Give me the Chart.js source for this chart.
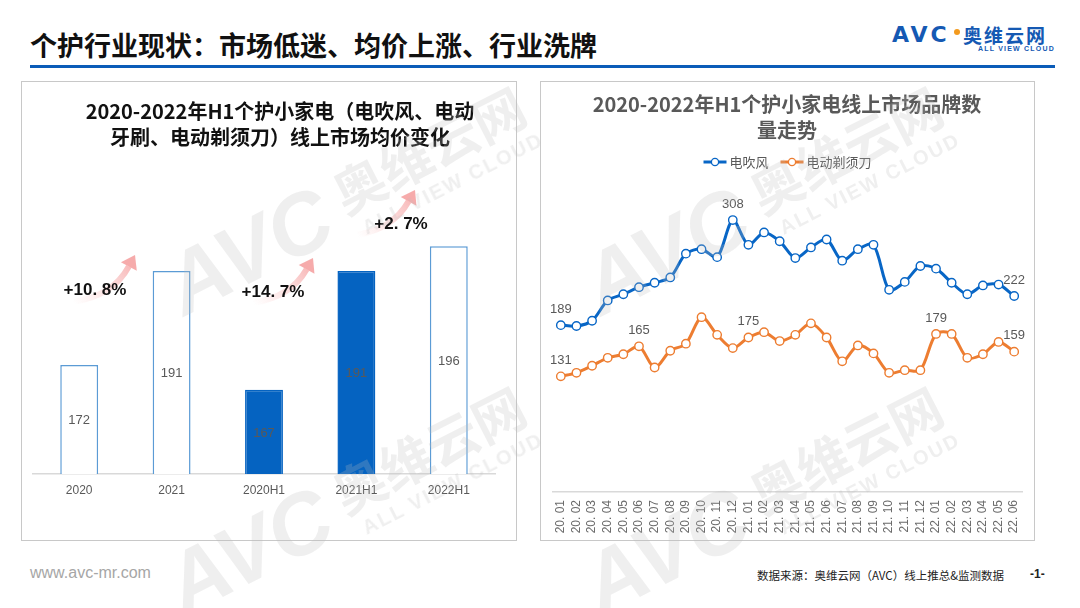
<!DOCTYPE html>
<html><head><meta charset="utf-8">
<script src="https://cdn.jsdelivr.net/npm/chart.js@4.4.1/dist/chart.umd.min.js"></script>
<style>
html,body{margin:0;padding:0;background:#fff;}
body{width:1080px;height:608px;position:relative;overflow:hidden;font-family:"Noto Sans CJK SC","Liberation Sans",sans-serif;}
.abs{position:absolute;white-space:nowrap;}
#hdr{left:30px;top:27px;font-size:27px;font-weight:bold;color:#111;line-height:36px;}
#hline{left:30px;top:65px;width:1025px;height:3px;background:#0b5cb8;}
#logoA{left:892px;top:23px;font-family:"DejaVu Sans";font-size:22px;font-weight:bold;color:#1559b3;letter-spacing:3px;line-height:24px;}
#logoDot{left:954px;top:29px;width:6px;height:6px;border-radius:50%;background:#f39a1e;}
#logoCn{left:963px;top:23px;font-size:19px;font-weight:bold;color:#1559b3;letter-spacing:2px;line-height:24px;}
#logoEn{left:978px;top:45px;font-family:"Liberation Sans";font-size:7px;font-weight:bold;color:#1559b3;letter-spacing:1.2px;line-height:8px;}
.panel{position:absolute;outline:1px solid #c8c8c8;}
#pL{left:22px;top:82px;width:494px;height:458px;}
#pR{left:541px;top:82px;width:493px;height:458px;}
.ttl{position:absolute;font-size:20px;font-weight:bold;line-height:26px;text-align:center;white-space:nowrap;}
#tL{left:80px;top:98px;width:400px;color:#111;}
#tR{left:587px;top:91px;width:400px;color:#595959;}
.ann{position:absolute;font-family:"Liberation Sans";font-size:17px;font-weight:bold;color:#111;transform:translate(-50%,-50%);white-space:nowrap;}
#fw{left:30px;top:564px;font-family:"Liberation Sans";font-size:16px;color:#a6a6a6;}
#fs{left:757px;top:567px;font-size:11.5px;color:#222;}
#fp{left:1030px;top:567px;font-family:"Liberation Sans";font-size:12px;font-weight:bold;color:#222;}
.wm{position:absolute;pointer-events:none;transform-origin:0 0;transform:rotate(-27deg);color:rgba(190,190,190,0.24);white-space:nowrap;}
.wm .a{position:absolute;left:0;top:0;font-family:"Liberation Sans";font-size:86px;font-weight:bold;font-style:italic;line-height:90px;}
.wm .c{position:absolute;left:190px;top:6px;font-size:52px;font-weight:bold;line-height:60px;}
.wm .e{position:absolute;left:200px;top:66px;font-family:"Liberation Sans";font-size:20px;font-weight:bold;letter-spacing:2px;line-height:24px;}
</style></head>
<body>
<div class="abs" id="hdr">个护行业现状：市场低迷、均价上涨、行业洗牌</div>
<div class="abs" id="hline"></div>
<div class="abs" id="logoA">AVC</div>
<div class="abs" id="logoDot"></div>
<div class="abs" id="logoCn">奥维云网</div>
<div class="abs" id="logoEn">ALL VIEW CLOUD</div>

<div class="panel" id="pL"><canvas id="cL"></canvas></div>
<div class="panel" id="pR"><canvas id="cR"></canvas></div>

<div class="ttl" id="tL">2020-2022年H1个护小家电（电吹风、电动<br>牙刷、电动剃须刀）线上市场均价变化</div>
<div class="ttl" id="tR">2020-2022年H1个护小家电线上市场品牌数<br>量走势</div>

<div class="ann" style="left:95px;top:290px;">+10. 8%</div>
<div class="ann" style="left:273px;top:292px;">+14. 7%</div>
<div class="ann" style="left:401px;top:224px;">+2. 7%</div>

<div class="abs" id="fw">www.avc-mr.com</div>
<div class="abs" id="fs">数据来源：奥维云网（AVC）线上推总&amp;监测数据</div>
<div class="abs" id="fp">-1-</div>

<div class="wm" style="left:150px;top:250px;"><div class="a">AVC</div><div class="c">奥维云网</div><div class="e">ALL VIEW CLOUD</div></div>
<div class="wm" style="left:150px;top:550px;"><div class="a">AVC</div><div class="c">奥维云网</div><div class="e">ALL VIEW CLOUD</div></div>
<div class="wm" style="left:567px;top:250px;"><div class="a">AVC</div><div class="c">奥维云网</div><div class="e">ALL VIEW CLOUD</div></div>
<div class="wm" style="left:567px;top:550px;"><div class="a">AVC</div><div class="c">奥维云网</div><div class="e">ALL VIEW CLOUD</div></div>

<script>
// ---------- data ----------
const barCategories = ['2020', '2021', '2020H1', '2021H1', '2022H1'];
const avgPrice = [172, 191, 167, 191, 196];

const months = ['20. 01','20. 02','20. 03','20. 04','20. 05','20. 06','20. 07','20. 08','20. 09','20. 10','20. 11','20. 12',
                '21. 01','21. 02','21. 03','21. 04','21. 05','21. 06','21. 07','21. 08','21. 09','21. 10','21. 11','21. 12',
                '22. 01','22. 02','22. 03','22. 04','22. 05','22. 06'];
const hairDryerBrands = [189,188,194,217,224,232,237,243,270,275,266,308,280,294,284,265,277,286,262,275,280,229,238,256,253,237,224,234,235,222];
const shaverBrands    = [131,135,143,152,156,165,141,160,168,198,178,163,175,181,171,178,191,175,148,166,157,135,138,138,179,179,152,156,170,159];
const hairDryerLabelIdx = [0, 11, 29];
const shaverLabelIdx = [0, 5, 12, 24, 29];

// ---------- styles ----------
const BLUE = '#0866c6', ORANGE = '#ed7d31', BARBLUE = '#0563c1', BAREDGE = '#5b9bd5';
const barFill = ['#ffffff', '#ffffff', BARBLUE, BARBLUE, '#ffffff'];
const barEdge = [BAREDGE, BAREDGE, BARBLUE, BARBLUE, BAREDGE];

Chart.defaults.font.family = '"Liberation Sans", "Noto Sans CJK SC", sans-serif';
Chart.defaults.animation = false;

// ---------- bar chart ----------
const barLabels = {
  id: 'barLabels',
  afterDraw(chart){
    const ctx = chart.ctx, meta = chart.getDatasetMeta(0);
    const yScale = chart.scales.y;
    ctx.save();
    ctx.font = '13px "Liberation Sans"';
    ctx.fillStyle = '#595959';
    ctx.textAlign = 'center'; ctx.textBaseline = 'middle';
    meta.data.forEach((bar, i) => {
      const v = chart.data.datasets[0].data[i];
      const top = yScale.getPixelForValue(v);
      const base = yScale.getPixelForValue(yScale.min);
      ctx.fillText(String(v), bar.x, (top + base) / 2 + 1);
    });
    ctx.restore();
  }
};
const arrows = {
  id: 'arrows',
  beforeDatasetsDraw(chart){
    const ctx = chart.ctx;
    const list = [[51,220,113,173],[231,221,291,176],[335,153,393,108]];
    list.forEach(([x0,y0,x1,y1]) => {
      const cx = x1 - 22, cy = y0 - 6;
      const g = ctx.createLinearGradient(x0, y0, x1, y1);
      g.addColorStop(0, 'rgba(250,190,190,0)');
      g.addColorStop(1, 'rgba(244,150,150,0.8)');
      const dx = x1 - cx, dy = y1 - cy, L = Math.hypot(dx, dy), ux = dx / L, uy = dy / L;
      const hx = x1 - ux * 13, hy = y1 - uy * 13;
      ctx.save();
      ctx.strokeStyle = g; ctx.lineWidth = 6; ctx.lineCap = 'butt';
      ctx.beginPath(); ctx.moveTo(x0, y0); ctx.quadraticCurveTo(cx, cy, hx, hy); ctx.stroke();
      ctx.fillStyle = 'rgba(244,150,150,0.8)';
      ctx.beginPath();
      ctx.moveTo(x1, y1);
      ctx.lineTo(hx - uy * 9, hy + ux * 9);
      ctx.lineTo(hx + uy * 9, hy - ux * 9);
      ctx.closePath(); ctx.fill();
      ctx.restore();
    });
  }
};

new Chart(document.getElementById('cL'), {
  type: 'bar',
  data: { labels: barCategories, datasets: [{ data: avgPrice, backgroundColor: barFill, borderColor: barEdge, borderWidth: 1.5, borderSkipped: 'bottom', categoryPercentage: 1, barPercentage: 0.41 }] },
  options: {
    responsive: true, maintainAspectRatio: false,
    layout: { padding: { left: 11, right: 21, top: 144.5, bottom: 0 } },
    plugins: { legend: { display: false }, tooltip: { enabled: false } },
    scales: {
      x: { grid: { display: false }, border: { display: true, color: '#d9d9d9', width: 1.5 },
           ticks: { color: '#595959', font: { size: 12 }, padding: 1, maxRotation: 0 },
           afterFit(s){ s.height = 66; } },
      y: { display: false, min: 150, max: 200 }
    }
  },
  plugins: [barLabels, arrows]
});

// ---------- line chart ----------
const lineLabels = {
  id: 'lineLabels',
  afterDatasetsDraw(chart){
    const ctx = chart.ctx;
    ctx.save();
    ctx.font = '13px "Liberation Sans"';
    ctx.fillStyle = '#595959';
    ctx.textAlign = 'center'; ctx.textBaseline = 'middle';
    [hairDryerLabelIdx, shaverLabelIdx].forEach((idx, d) => {
      const meta = chart.getDatasetMeta(d);
      idx.forEach(i => {
        const p = meta.data[i];
        ctx.fillText(String(chart.data.datasets[d].data[i]), p.x, p.y - 16);
      });
    });
    ctx.restore();
  }
};
const lineLegend = {
  id: 'lineLegend',
  afterDraw(chart){
    const ctx = chart.ctx;
    ctx.save();
    ctx.font = '13px "Noto Sans CJK SC"';
    ctx.textBaseline = 'middle';
    const items = chart.data.datasets.map(ds => ({ t: ds.label, c: ds.borderColor }));
    const lineW = 23, gap = 3, sep = 12;
    let total = 0;
    items.forEach((it, i) => { it.w = ctx.measureText(it.t).width; total += lineW + gap + it.w + (i ? sep : 0); });
    let x = chart.width / 2 - total / 2;
    const y = 80;
    items.forEach((it, i) => {
      if (i) x += sep;
      ctx.strokeStyle = it.c; ctx.lineWidth = 3;
      ctx.beginPath(); ctx.moveTo(x, y); ctx.lineTo(x + lineW, y); ctx.stroke();
      ctx.fillStyle = '#fff'; ctx.lineWidth = 1.3;
      ctx.beginPath(); ctx.arc(x + lineW / 2, y, 3.6, 0, Math.PI * 2); ctx.fill(); ctx.stroke();
      x += lineW + gap;
      ctx.fillStyle = '#595959';
      ctx.fillText(it.t, x, y);
      x += it.w;
    });
    ctx.restore();
  }
};

new Chart(document.getElementById('cR'), {
  type: 'line',
  data: {
    labels: months,
    datasets: [
      { label: '电吹风', data: hairDryerBrands, borderColor: BLUE, backgroundColor: '#fff', borderWidth: 3,
        pointRadius: 4.2, pointBorderWidth: 1.4, pointBackgroundColor: '#fff', pointBorderColor: BLUE, tension: 0.3 },
      { label: '电动剃须刀', data: shaverBrands, borderColor: ORANGE, backgroundColor: '#fff', borderWidth: 3,
        pointRadius: 4.2, pointBorderWidth: 1.4, pointBackgroundColor: '#fff', pointBorderColor: ORANGE, tension: 0.3 }
    ]
  },
  options: {
    responsive: true, maintainAspectRatio: false,
    layout: { padding: { left: 12, right: 12, top: 101, bottom: 0 } },
    plugins: { legend: { display: false }, tooltip: { enabled: false } },
    scales: {
      x: { offset: true, grid: { display: false }, border: { display: true, color: '#d9d9d9', width: 1.5 },
           ticks: { color: '#6b6b6b', font: { size: 12 }, padding: 0, minRotation: 90, maxRotation: 90, autoSkip: false },
           afterFit(s){ s.height = 48; } },
      y: { display: false, min: 0, max: 350 }
    }
  },
  plugins: [lineLabels, lineLegend]
});
</script>
</body></html>
